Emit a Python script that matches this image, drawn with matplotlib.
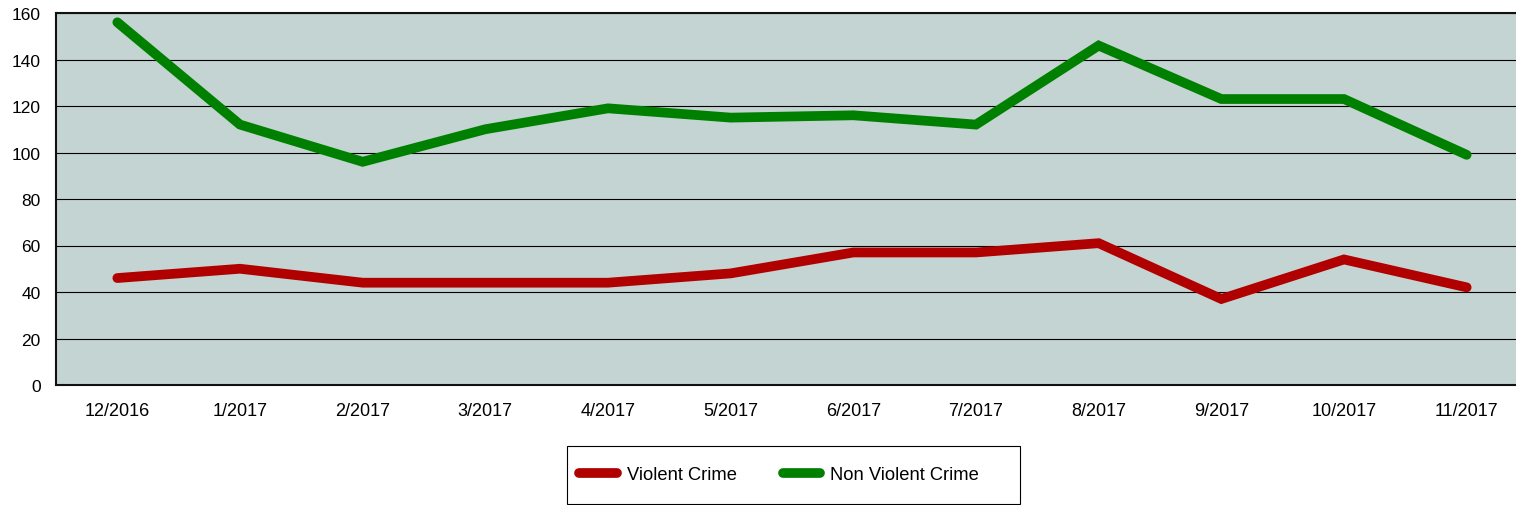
import matplotlib.pyplot as plt
from matplotlib.patches import Rectangle
import numpy as np

# Data
MONTHS = ['12/2016', '1/2017', '2/2017', '3/2017', '4/2017', '5/2017',
          '6/2017', '7/2017', '8/2017', '9/2017', '10/2017', '11/2017']
VIOLENT = [46, 50, 44, 44, 44, 48, 57, 57, 61, 37, 54, 42]
NON_VIOLENT = [156, 112, 96, 110, 119, 115, 116, 112, 146, 123, 123, 99]

plt.rcParams['font.family'] = ['Liberation Sans', 'DejaVu Sans']

W, H = 1516, 506
fig = plt.figure(figsize = (W / 100, H / 100), dpi = 100)
# plot area runs slightly past the right edge, as in the original
ax = fig.add_axes([56 / W, 120 / H, 1472 / W, 372 / H])
ax.set_facecolor('#c4d4d2')

x = np.arange(len(MONTHS)) + 0.5
ax.plot(x, VIOLENT, color = '#b00000', linewidth = 7, solid_capstyle = 'round', solid_joinstyle = 'miter', label = 'Violent Crime', zorder = 3)
ax.plot(x, NON_VIOLENT, color = '#008000', linewidth = 7, solid_capstyle = 'round', solid_joinstyle = 'miter', label = 'Non Violent Crime', zorder = 3)

ax.set_xlim(0, len(MONTHS))
ax.set_ylim(0, 160)
ax.set_yticks(range(0, 161, 20))
ax.set_xticks(x)
ax.set_xticklabels(MONTHS)
ax.tick_params(axis = 'both', length = 0, colors = 'black')
ax.tick_params(axis = 'x', pad = 12, labelsize = 13)
ax.tick_params(axis = 'y', pad = 11, labelsize = 12.5)

ax.grid(axis = 'y', color = 'black', linewidth = 0.8, zorder = 1)
ax.set_axisbelow(True)

ax.spines['right'].set_visible(False)
for side in ['top', 'left', 'bottom']:
    ax.spines[side].set_linewidth(1.5)
    ax.spines[side].set_color('#111111')

# Legend box drawn by hand to match the uneven padding
fig.patches.append(Rectangle((567 / W, 1 / H), 453 / W, 58 / H, transform = fig.transFigure,
                             facecolor = 'white', edgecolor = 'black', linewidth = 0.8, zorder = 0))
fig.legend(loc = 'center left', bbox_to_anchor = (579 / W, 30 / H), ncol = 2, fontsize = 13.2,
           frameon = False, handlelength = 2.05, columnspacing = 2.5, borderpad = 0,
           borderaxespad = 0, handletextpad = 0.55)

fig.savefig('out.png', dpi = 100)
